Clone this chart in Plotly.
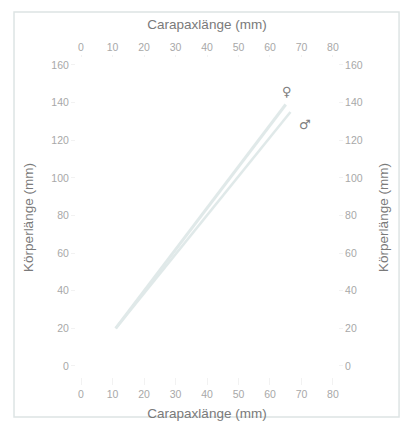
import plotly.graph_objects as go

# Carapace length vs. body length, fitted growth lines per sex
carapax_f = [11, 65]
koerper_f = [20, 139]
carapax_m = [11, 66.5]
koerper_m = [20, 135]

x_ticks = [0, 10, 20, 30, 40, 50, 60, 70, 80]
y_ticks = [0, 20, 40, 60, 80, 100, 120, 140, 160]

x_title = "Carapaxlänge (mm)"
y_title = "Körperlänge (mm)"

line_col = "#e0e9e9"
tick_font = dict(family="Liberation Sans, Arial, sans-serif", size=10.5, color="#a8a8a8")
title_font = dict(family="Liberation Sans, Arial, sans-serif", size=13.5, color="#7a7a7a")

fig = go.Figure()
fig.add_trace(go.Scatter(x=carapax_f, y=koerper_f, mode="lines",
                         line=dict(color=line_col, width=3), showlegend=False,
                         hoverinfo="skip"))
fig.add_trace(go.Scatter(x=carapax_m, y=koerper_m, mode="lines",
                         line=dict(color=line_col, width=2.5), showlegend=False,
                         hoverinfo="skip"))
# invisible trace so the mirrored axes are drawn
fig.add_trace(go.Scatter(x=[0], y=[0], xaxis="x2", yaxis="y2", mode="markers",
                         marker=dict(opacity=0), showlegend=False, hoverinfo="skip"))

xr = [-1.6, 81.6]
yr = [-5.85, 163.7]

axis_base = dict(showline=False, showgrid=False, zeroline=False, automargin=False,
                 ticks="outside", tickcolor="#f2f2f2", tickfont=tick_font)

fig.update_layout(
    width=400, height=421,
    margin=dict(l=76, r=62, t=58, b=44),
    paper_bgcolor="white", plot_bgcolor="white",
    xaxis=dict(side="bottom", range=xr, tickvals=x_ticks, ticklen=7,
               title=dict(text=x_title, font=title_font, standoff=12), **axis_base),
    xaxis2=dict(side="top", overlaying="x", anchor="y", range=xr, tickvals=x_ticks,
                ticklen=2, title=dict(text=x_title, font=title_font, standoff=8),
                **axis_base),
    yaxis=dict(side="left", range=yr, tickvals=y_ticks, ticklen=4,
               title=dict(text=y_title, font=title_font, standoff=14), **axis_base),
    yaxis2=dict(side="right", overlaying="y", anchor="x", range=yr, tickvals=y_ticks,
                ticklen=4, title=dict(text=y_title, font=title_font, standoff=16),
                **axis_base),
    shapes=[dict(type="rect", xref="paper", yref="paper",
                 x0=-0.2366, x1=1.233, y0=-0.125, y1=1.144,
                 line=dict(color="#dde4e4", width=1.5))],
    annotations=[
        dict(x=65.4, y=145.7, text="♀", showarrow=False,
             font=dict(family="DejaVu Sans", size=13, color="#808080")),
        dict(x=71.1, y=128.2, text="♂", showarrow=False,
             font=dict(family="DejaVu Sans", size=13, color="#808080")),
    ],
)

fig.write_html("out.html")
